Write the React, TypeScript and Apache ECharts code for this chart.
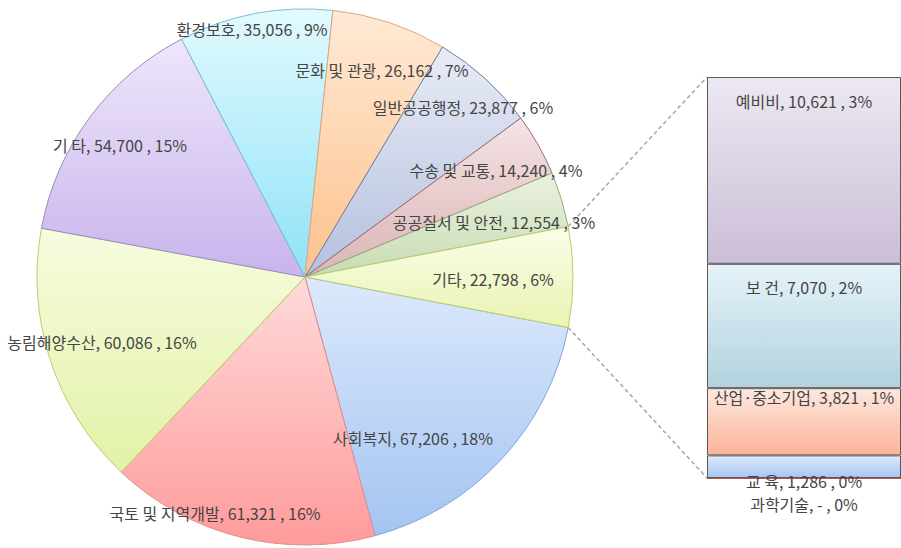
import React, { useEffect, useRef } from "react";
import * as echarts from "echarts";

// ---- data ----
const pieNames = ["사회복지", "국토 및 지역개발", "농림해양수산", "기 타", "환경보호", "문화 및 관광", "일반공공행정", "수송 및 교통", "공공질서 및 안전", "기타"];
const pieValues = [67206, 61321, 60086, 54700, 35056, 26162, 23877, 14240, 12554, 22798];
const piePercents = [18, 16, 16, 15, 9, 7, 6, 4, 3, 6];

const barNames = ["예비비", "보 건", "산업·중소기업", "교 육", "과학기술"];
const barValues = [10621, 7070, 3821, 1286, 0];
const barPercents = [3, 2, 1, 0, 0];

// ---- styles / layout ----
const FONT = "'Noto Sans CJK KR', 'Noto Sans', sans-serif";
const TEXT_COLOR = "#454545";
const FONT_SIZE = 16;

const CX = 305;
const CY = 277;
const R = 268;

const BAR_LEFT = 707;
const BAR_TOP = 77;
const BAR_W = 200;
const BAR_H = 401;

const pieColors: [string, string, string][] = [
  ["#dce9fc", "#a4c4f1", "#7fa6dc"],
  ["#ffdada", "#ff9b9b", "#e58a8a"],
  ["#f6fcdf", "#e2f2a6", "#b9cc72"],
  ["#efe6fb", "#c8b4ec", "#9c8cc2"],
  ["#e2fafe", "#8fe2f7", "#72c2da"],
  ["#ffead6", "#fdc18c", "#e3a677"],
  ["#e8ecf6", "#b5c0de", "#6f7ba0"],
  ["#f5e3e3", "#dab5b8", "#9c6c73"],
  ["#eaf2df", "#c8dbb3", "#99ae7b"],
  ["#fafde8", "#e9f4b3", "#b9ce6c"],
];

const barColors: [string, string][] = [
  ["#ece8f2", "#cbbed7"],
  ["#e6f3f9", "#b2d2de"],
  ["#fde9de", "#fcb399"],
  ["#dfeafc", "#a8c5f2"],
  ["#dfeafc", "#a8c5f2"],
];

// label centre positions for pie slices
const pieLabelPos: [number, number][] = [
  [413, 438],
  [215, 513],
  [102, 342],
  [120, 145],
  [252, 29],
  [382, 70],
  [463, 107],
  [496, 170],
  [494, 222],
  [493, 279],
];

// bar label placement: [position, distance]
const barLabelPlace: [string, number][] = [
  ["insideTop", 16],
  ["insideTop", 15],
  ["insideTop", 1],
  ["bottom", -5],
  ["bottom", 17],
];

const fmt = (v: number) => (v === 0 ? "-" : v.toLocaleString("en-US"));

export default function App() {
  const ref = useRef<HTMLDivElement>(null);

  useEffect(() => {
    if (!ref.current) return;
    const chart = echarts.init(ref.current, undefined, { renderer: "svg" });

    const total = pieValues.reduce((a, b) => a + b, 0);
    const halfDeg = (pieValues[pieValues.length - 1] / total) * 180;
    const halfRad = (halfDeg * Math.PI) / 180;
    const ex = CX + R * Math.cos(halfRad);
    const eyUp = CY - R * Math.sin(halfRad);
    const eyDn = CY + R * Math.sin(halfRad);

    const grad = (a: string, b: string) =>
      new echarts.graphic.LinearGradient(0, 0, 0, 1, [
        { offset: 0, color: a },
        { offset: 1, color: b },
      ]);

    const pieData = pieNames.map((n, i) => ({
      name: n,
      value: pieValues[i],
      itemStyle: {
        color: grad(pieColors[i][0], pieColors[i][1]),
        borderColor: pieColors[i][2],
        borderWidth: 1,
      },
      label: {
        formatter: `${n}, ${fmt(pieValues[i])} , ${piePercents[i]}%`,
      },
    }));

    const barSeries = barNames
      .map((n, i) => ({
        name: n,
        type: "bar",
        stack: "other",
        xAxisIndex: 0,
        yAxisIndex: 0,
        barCategoryGap: "0%",
        silent: true,
        data: [barValues[i]],
        itemStyle: {
          color: grad(barColors[i][0], barColors[i][1]),
          borderColor: i === 4 ? "#c0504d" : "#5a5a5a",
          borderWidth: i === 4 ? 2 : 1,
        },
        label: {
          show: true,
          position: barLabelPlace[i][0],
          distance: barLabelPlace[i][1],
          formatter: `${n}, ${fmt(barValues[i])} , ${barPercents[i]}%`,
          color: TEXT_COLOR,
          fontFamily: FONT,
          fontSize: FONT_SIZE,
        },
      }))
      .reverse();

    chart.setOption({
      animation: false,
      backgroundColor: "#ffffff",
      grid: { left: BAR_LEFT, top: BAR_TOP, width: BAR_W, height: BAR_H },
      xAxis: { type: "category", data: ["기타"], show: false },
      yAxis: { type: "value", min: 0, max: pieValues[pieValues.length - 1], show: false },
      series: [
        {
          type: "pie",
          center: [CX, CY],
          radius: R,
          startAngle: -halfDeg,
          clockwise: true,
          silent: true,
          avoidLabelOverlap: false,
          data: pieData,
          label: {
            show: true,
            position: "inside",
            color: TEXT_COLOR,
            fontFamily: FONT,
            fontSize: FONT_SIZE,
          },
          labelLine: { show: false },
          labelLayout: (params: any) => {
            const p = pieLabelPos[params.dataIndex];
            return { x: p[0], y: p[1], align: "center", verticalAlign: "middle" };
          },
        },
        ...barSeries,
      ],
      graphic: [
        {
          type: "line",
          silent: true,
          shape: { x1: ex, y1: eyUp, x2: BAR_LEFT, y2: BAR_TOP },
          style: { stroke: "#a6a6a6", lineWidth: 1.5, lineDash: [4, 3] },
        },
        {
          type: "line",
          silent: true,
          shape: { x1: ex, y1: eyDn, x2: BAR_LEFT, y2: BAR_TOP + BAR_H },
          style: { stroke: "#a6a6a6", lineWidth: 1.5, lineDash: [4, 3] },
        },
      ],
    });

    return () => chart.dispose();
  }, []);

  return (
    <div
      ref={ref}
      style={{ position: "absolute", left: 0, top: 0, width: 901, height: 548, background: "#fff" }}
    />
  );
}
